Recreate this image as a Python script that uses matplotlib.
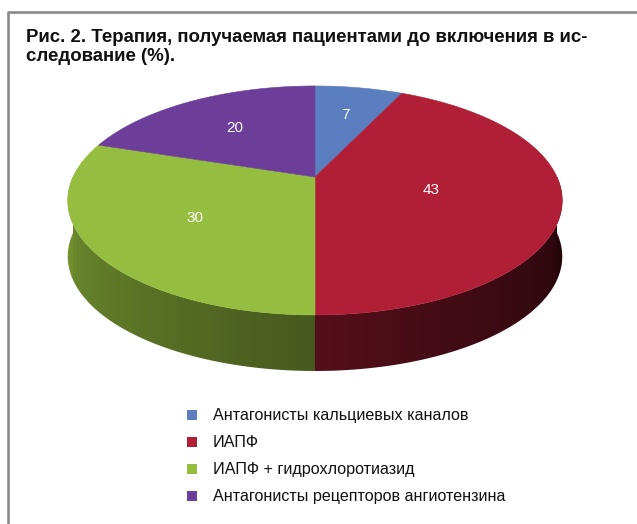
import numpy as np
import matplotlib
matplotlib.use("Agg")
import matplotlib.pyplot as plt
from matplotlib.patches import Polygon, Rectangle
from matplotlib.lines import Line2D
from matplotlib.colors import to_rgb

# ---- data ----
categories = ["Антагонисты кальциевых каналов", "ИАПФ",
              "ИАПФ + гидрохлоротиазид", "Антагонисты рецепторов ангиотензина"]
values = [7, 43, 30, 20]
colors = ["#5B7EC0", "#B11F36", "#95BD3F", "#6C3E99"]
title = "Рис. 2. Терапия, получаемая пациентами до включения в ис-\nследование (%)."

W, H = 637, 524
fig = plt.figure(figsize=(W / 100, H / 100), dpi=100)
ax = fig.add_axes([0, 0, 1, 1])
ax.set_xlim(0, W)
ax.set_ylim(H, 0)
ax.axis("off")

# frame (left and top border)
ax.add_line(Line2D([7.5, 7.5], [H, 12], color="#8a8a8a", lw=1.9, solid_capstyle="butt"))
ax.add_line(Line2D([6.5, W], [12, 12], color="#8a8a8a", lw=1.9, solid_capstyle="butt"))

ax.text(26, 29, title, fontsize=13.4, fontweight="bold", family="Liberation Sans",
        va="top", ha="left", linespacing=1.12, color="#111111")

# ---- 3D perspective pie geometry ----
cx, cy = 315.0, 177.0
A, B, k = 242.0, 109.7, 0.205
D = 56.0

def proj(phi, r=1.0, dy=0.0):
    u = r * np.sin(phi)
    v = -r * np.cos(phi)
    w = 1 - k * v
    return cx + A * u / w, cy + B * v / w + dy

vals = np.array(values, dtype=float)
frac = vals / vals.sum()
edges = np.concatenate([[0], np.cumsum(frac)]) * 2 * np.pi

def slice_of(phi):
    i = np.searchsorted(edges, phi, side="right") - 1
    return min(max(i, 0), len(values) - 1)

# side (front half) as a smooth gradient image clipped to the side outline
phis = np.linspace(np.pi / 2, 3 * np.pi / 2, 721)
xs_top, ys_top = proj(phis)
side_pts = list(zip(xs_top, ys_top)) + list(zip(xs_top[::-1], ys_top[::-1] + D))
side_poly = Polygon(side_pts, closed=True, facecolor="none", edgecolor="none")
ax.add_patch(side_poly)

order = np.argsort(xs_top)
x_cols = np.arange(int(xs_top.min()) - 2, int(xs_top.max()) + 3) + 0.5
phi_cols = np.interp(x_cols, xs_top[order], phis[order])
img = np.zeros((1, len(x_cols), 3))
for j, pm in enumerate(phi_cols):
    idx = slice_of(pm)
    t = (pm - np.pi / 2) / np.pi  # 0 right, 1 left
    s = 0.17 + 0.63 * t ** 1.05
    img[0, j] = np.clip(np.array(to_rgb(colors[idx])) * s, 0, 1)
ymin, ymax = ys_top.min() - 2, ys_top.max() + D + 2
im = ax.imshow(img, extent=[x_cols[0] - 0.5, x_cols[-1] + 0.5, ymax, ymin],
               aspect="auto", interpolation="nearest", zorder=1)
im.set_clip_path(side_poly)

# top face
for i, (v, col) in enumerate(zip(values, colors)):
    a0, a1 = edges[i], edges[i + 1]
    ph = np.linspace(a0, a1, 200)
    xs, ys = proj(ph)
    pts = [(cx, cy)] + list(zip(xs, ys))
    ax.add_patch(Polygon(pts, closed=True, facecolor=col, edgecolor=col, lw=0.4, zorder=2))

# labels at sector centroids
for i, v in enumerate(values):
    a0, a1 = edges[i], edges[i + 1]
    alpha = (a1 - a0) / 2
    rc = 2 * np.sin(alpha) / (3 * alpha)
    x, y = proj((a0 + a1) / 2, rc)
    ax.text(x, y + 1, str(v), color="white", fontsize=11, family="Liberation Sans",
            ha="center", va="center", zorder=3)

# legend
ly0, ldy = 415, 27
for i, (lab, col) in enumerate(zip(categories, colors)):
    y = ly0 + i * ldy
    ax.add_patch(Rectangle((187, y - 5), 10, 10, facecolor=col, edgecolor="none"))
    ax.text(213, y + 0.5, lab, fontsize=11.6, family="Liberation Sans", va="center",
            ha="left", color="#111111")

fig.savefig("out.png", dpi=100, facecolor="white")
